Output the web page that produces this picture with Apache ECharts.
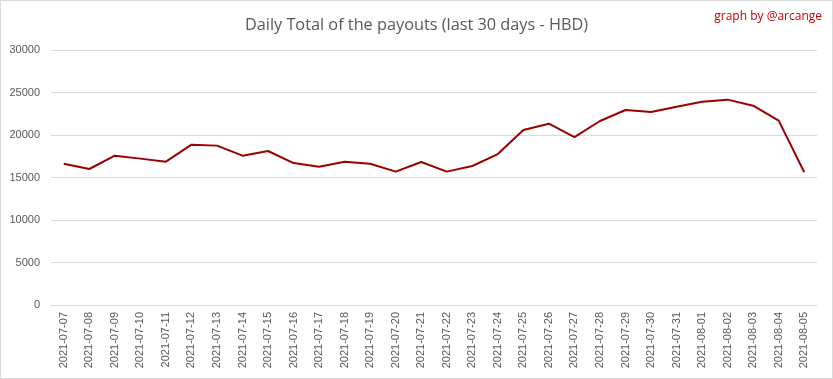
<!DOCTYPE html>
<html><head><meta charset="utf-8">
<script src="https://cdn.jsdelivr.net/npm/echarts@6/dist/echarts.min.js"></script>
<style>html,body{margin:0;padding:0;background:#fff}#c{width:833px;height:379px;box-sizing:border-box;border:1px solid #d9d9d9}</style>
</head><body><div id="c"></div>
<script>
const categories = ["2021-07-07","2021-07-08","2021-07-09","2021-07-10","2021-07-11","2021-07-12","2021-07-13","2021-07-14","2021-07-15","2021-07-16","2021-07-17","2021-07-18","2021-07-19","2021-07-20","2021-07-21","2021-07-22","2021-07-23","2021-07-24","2021-07-25","2021-07-26","2021-07-27","2021-07-28","2021-07-29","2021-07-30","2021-07-31","2021-08-01","2021-08-02","2021-08-03","2021-08-04","2021-08-05"];
const payouts = [16620,16000,17570,17220,16860,18860,18750,17570,18120,16700,16270,16860,16620,15690,16820,15690,16350,17760,20590,21330,19760,21650,22940,22700,23330,23920,24160,23450,21690,15610];
const yTicks = [0,5000,10000,15000,20000,25000,30000];
const titleText = "Daily Total of the payouts (last 30 days - HBD)";
const creditText = "graph by @arcange";

const chart = echarts.init(document.getElementById('c'), null, {renderer:'canvas'});
chart.setOption({
  animation:false,
  title:[
    {text:titleText,left:'center',top:11,textStyle:{fontFamily:'Open Sans',fontWeight:'normal',fontSize:16.3,color:'#595959'}},
    {text:creditText,right:5,top:5,textStyle:{fontFamily:'Open Sans',fontWeight:'normal',fontSize:12,color:'#c00000'}}
  ],
  grid:{left:50,right:15,top:49,bottom:73},
  xAxis:{type:'category',data:categories,boundaryGap:true,
    axisLine:{show:true,lineStyle:{color:'#d9d9d9'}},axisTick:{show:false},
    axisLabel:{rotate:90,interval:0,margin:7,fontFamily:'Liberation Sans',fontSize:11,color:'#595959'}},
  yAxis:{type:'value',min:yTicks[0],max:yTicks[yTicks.length-1],interval:5000,
    axisLine:{show:false},axisTick:{show:false},
    axisLabel:{margin:11,fontFamily:'Liberation Sans',fontSize:11,color:'#595959',formatter:v=>String(v)},
    splitLine:{lineStyle:{color:'#d9d9d9'}}},
  series:[{type:'line',data:payouts,symbol:'none',lineStyle:{color:'#990000',width:2}}]
});
</script></body></html>
